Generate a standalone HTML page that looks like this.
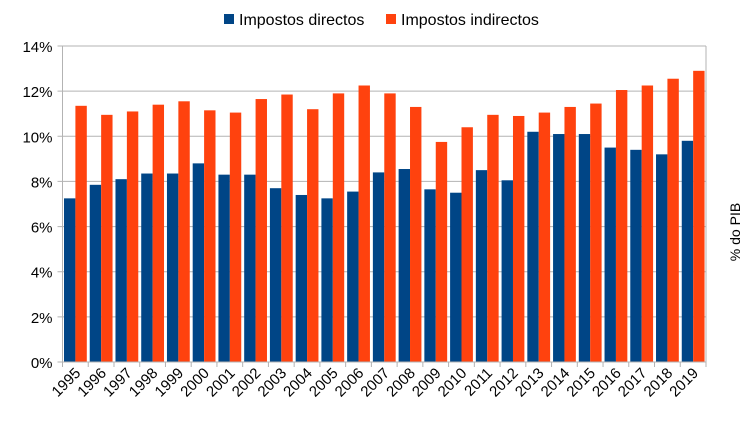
<!DOCTYPE html><html><head><style>body{margin:0;background:#fff}svg{display:block;font-family:"Liberation Sans",sans-serif}</style></head><body>
<svg width="756" height="425" xmlns="http://www.w3.org/2000/svg">
<rect width="756" height="425" fill="#fff"/>
<g id="g"></g>
<rect x="224" y="14" width="10" height="10" fill="#004586"/>
<text x="239" y="25" font-size="16">Impostos directos</text>
<rect x="386" y="14" width="10" height="10" fill="#ff420e"/>
<text x="401" y="25" font-size="16">Impostos indirectos</text>
<text transform="translate(740,232) rotate(-90)" text-anchor="middle" font-size="14">% do PIB</text>
</svg>
<script>
const B=[7.25,7.85,8.1,8.35,8.35,8.8,8.3,8.3,7.7,7.4,7.25,7.55,8.4,8.55,7.65,7.5,8.5,8.05,10.2,10.1,10.1,9.5,9.4,9.2,9.8];
const O=[11.35,10.95,11.1,11.4,11.55,11.15,11.05,11.65,11.85,11.2,11.9,12.25,11.9,11.3,9.75,10.4,10.95,10.9,11.05,11.3,11.45,12.05,12.25,12.55,12.9];
const L=62.5,R=706,T=46,Z=362,u=(Z-T)/14,p=(R-L)/25;let s='';
for(let i=0;i<=7;i++){const y=Z-i*2*u;s+=`<line x1="${L-5}" x2="${R}" y1="${y}" y2="${y}" stroke="#b3b3b3"/>`;s+=`<text x="${L-10}" y="${y+6}" text-anchor="end" font-size="15">${i*2}%</text>`;}
s+=`<line x1="${L}" x2="${L}" y1="${T}" y2="${Z+5}" stroke="#b3b3b3"/><line x1="${R}" x2="${R}" y1="${T}" y2="${Z}" stroke="#b3b3b3"/>`;
for(let i=0;i<25;i++){const x=L+i*p;
s+=`<rect x="${x+1.5}" y="${Z-B[i]*u}" width="11.4" height="${B[i]*u}" fill="#004586"/>`;
s+=`<rect x="${x+12.9}" y="${Z-O[i]*u}" width="11.4" height="${O[i]*u}" fill="#ff420e"/>`;
s+=`<line x1="${x+p}" x2="${x+p}" y1="${Z}" y2="${Z+5}" stroke="#b3b3b3"/>`;
s+=`<text transform="translate(${x+p/2+6},${Z+12}) rotate(-45)" text-anchor="end" font-size="15">${1995+i}</text>`;}
s+=`<line x1="${L-5}" x2="${R}" y1="${Z}" y2="${Z}" stroke="#b3b3b3"/>`;
document.getElementById('g').innerHTML=s;
</script></body></html>
